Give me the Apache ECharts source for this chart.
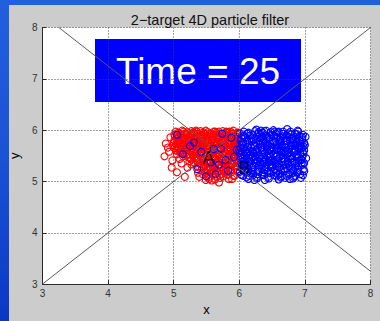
<!DOCTYPE html>
<html>
<head>
<meta charset="utf-8">
<script src="https://cdn.jsdelivr.net/npm/echarts@6/dist/echarts.min.js"></script>
<style>
  html, body { margin: 0; padding: 0; }
  body {
    width: 380px; height: 321px; overflow: hidden; position: relative;
    background: linear-gradient(180deg, #2160dc 0%, #1a52d4 50%, #0a38c4 100%);
  }
  #panel { position: absolute; left: 9px; top: 5px; width: 371px; height: 316px; background: #cccccc; }
  #chart { position: absolute; left: 0; top: 0; width: 380px; height: 321px; }
</style>
</head>
<body>
<div id="panel"></div>
<div id="chart"></div>
<script>
// Axis ranges and ticks
const xTicks = [3, 4, 5, 6, 7, 8];
const yTicks = [3, 4, 5, 6, 7, 8];

// Target trajectories (straight crossing paths)
const pathA = [[3.25, 8], [8, 3.25]];
const pathB = [[3, 3], [8, 8]];

// Particle cloud of target A
const particlesA = [
  [5.12,5.87],[5.47,5.93],[5.81,5.62],[5.33,5.71],[5.95,5.88],[5.64,5.45],[5.21,5.96],[5.76,5.79],[5.02,5.68],[5.58,5.84],
  [5.39,5.52],[5.88,5.33],[5.17,5.74],[5.69,5.97],[5.44,5.66],[5.91,5.57],[5.27,5.89],[5.73,5.28],[5.06,5.92],[5.52,5.77],
  [5.85,5.71],[5.31,5.94],[5.62,5.63],[5.14,5.55],[5.97,5.41],[5.49,5.86],[5.79,5.92],[5.23,5.81],[5.67,5.19],[5.41,5.98],
  [5.93,5.66],[5.08,5.79],[5.55,5.39],[5.36,5.83],[5.83,5.49],[5.19,5.64],[5.71,5.88],[5.46,5.27],[5.99,5.95],[5.29,5.58],
  [5.61,5.91],[5.04,5.84],[5.77,5.36],[5.37,5.69],[5.89,5.82],[5.15,5.97],[5.53,5.58],[5.25,5.46],[5.82,5.96],[5.66,5.74],
  [5.43,5.91],[5.96,5.23],[5.11,5.62],[5.74,5.55],[5.34,5.99],[5.59,5.31],[5.86,5.86],[5.22,5.72],[5.48,5.79],[5.01,5.91],
  [5.68,5.83],[5.92,5.74],[5.38,5.43],[5.13,5.81],[5.63,5.97],[5.80,5.19],[5.45,5.62],[5.26,5.91],[5.94,5.52],[5.57,5.69],
  [5.09,5.73],[5.72,5.63],[5.32,5.87],[5.87,5.61],[5.18,5.94],[5.51,5.22],[5.78,5.84],[5.42,5.78],[5.98,5.79],[5.24,5.53],
  [5.65,5.55],[5.03,5.97],[5.56,5.94],[5.84,5.41],[5.35,5.76],[5.70,5.12],[5.16,5.86],[5.90,5.93],[5.50,5.48],[5.28,5.65],
  [5.75,5.98],[5.40,5.34],[5.07,5.66],[5.60,5.81],[5.97,5.68],[5.20,5.79],[5.54,5.05],[5.81,5.89],[5.30,5.96],[5.67,5.67],
  [5.44,5.14],[5.62,5.26],[5.87,5.18],[5.71,5.07],[5.36,5.29],[5.93,5.11],[5.52,5.35],[5.79,5.24],[5.58,5.02],[5.66,5.38],
  [5.48,5.19],[5.84,5.31],[5.39,5.09],[5.95,5.27],[5.61,5.16],[5.74,5.42],[5.31,5.37],[5.89,5.05],[5.55,5.28],[5.69,4.98],
  [5.46,5.41],[5.82,5.13],[5.99,5.36],[5.64,5.21],[5.37,5.17],[5.77,5.33],[5.51,5.11],[5.92,5.45],[5.43,5.25],[5.73,5.15],
  [5.27,5.33],[5.59,5.44],[5.86,5.26],[5.34,5.45],[5.97,5.19],[5.68,5.31],[5.49,5.03],[5.80,5.39],[5.56,5.18],[5.41,5.36],
  [5.12,5.35],[5.05,5.18],[5.21,5.27],[4.98,5.41],[5.17,5.09],[5.09,5.44],[5.24,5.39],
  [5.14,5.49],[5.33,5.58],[5.57,5.51],[5.76,5.47],[5.91,5.64],[5.05,5.53],[5.42,5.55],[5.63,5.59],[5.85,5.54],[5.25,5.61],
  [5.47,5.44],[5.70,5.52],[5.96,5.58],[5.19,5.57],[5.38,5.64],[5.60,5.66],[5.83,5.67],[5.10,5.59],[5.29,5.51],[5.53,5.63],
  [5.78,5.58],[5.94,5.47],[5.45,5.71],[5.66,5.49],[5.22,5.47],[5.88,5.50],[5.35,5.62],[5.72,5.72],[5.03,5.62],[5.50,5.57],
  [5.06,5.85],[5.19,5.91],[5.32,5.78],[5.45,5.96],[5.58,5.88],[5.71,5.93],[5.84,5.77],[5.97,5.91],[5.13,5.99],[5.26,5.84],
  [5.39,5.90],[5.52,5.82],[5.65,5.95],[5.78,5.87],[5.91,5.99],[5.00,5.76],[5.23,5.76],[5.36,5.93],[5.49,5.99],[5.62,5.76],
  [5.75,5.91],[5.88,5.96],[5.10,5.93],[5.30,5.82],[5.55,5.90],[5.80,5.97],[5.95,5.83],[5.17,5.80],[5.42,5.85],[5.68,5.90],
  [5.28,5.72],[5.51,5.69],[5.74,5.69],[5.93,5.80],[5.11,5.69],[5.40,5.73],[5.63,5.72],[5.86,5.66],[5.20,5.67],[5.57,5.75],
  [5.35,5.41],[5.61,5.36],[5.82,5.45],[5.47,5.30],[5.70,5.27],[5.90,5.34],[5.53,5.13],[5.76,5.21],[5.65,5.09],[5.84,5.05],
  [5.99,5.55],[5.96,5.72],[5.98,5.87],[5.01,5.80],[5.07,5.95],[4.99,5.70],[5.04,5.60],[5.15,5.64],[5.27,5.98],[5.44,5.80],
  [5.08,5.88],[5.21,5.83],[5.27,5.93],[5.41,5.86],[5.46,5.90],[5.61,5.97],[5.67,5.86],[5.80,5.95],[5.87,5.90],[5.97,5.95],
  [5.04,5.72],[5.12,5.77],[5.25,5.86],[5.32,5.90],[5.44,5.76],[5.54,5.87],[5.61,5.83],[5.74,5.78],[5.82,5.83],[5.94,5.88],
  [5.07,5.64],[5.17,5.71],[5.24,5.78],[5.38,5.72],[5.45,5.68],[5.58,5.80],[5.64,5.70],[5.77,5.66],[5.84,5.74],[5.97,5.77],
  [5.10,5.56],[5.18,5.60],[5.30,5.69],[5.37,5.60],[5.50,5.64],[5.57,5.58],[5.70,5.60],[5.78,5.71],[5.91,5.68],[5.98,5.63],
  [5.32,5.48],[5.40,5.52],[5.52,5.42],[5.60,5.47],[5.72,5.44],[5.80,5.53],[5.92,5.40],[5.46,5.37],[5.64,5.33],[5.86,5.36],
  [5.39,5.27],[5.47,5.33],[5.59,5.21],[5.67,5.19],[5.79,5.29],[5.87,5.22],[5.97,5.30],[5.53,5.08],[5.63,5.04],[5.76,5.10],
  [5.12,5.91],[5.35,5.97],[5.57,5.92],[5.79,5.81],[5.23,5.66],[5.47,5.73],[5.71,5.75],[5.94,5.69],[5.02,5.88],[5.44,5.69],
  [5.15,5.82],[5.29,5.75],[5.52,5.96],[5.66,5.91],[5.85,5.97],[5.93,5.58],[5.60,5.55],[5.74,5.37],[5.83,5.15],[5.56,5.25],
  [5.42,5.45],[5.68,5.53],[5.89,5.46],[5.35,5.54],[5.20,5.52],[5.01,5.65],[5.06,5.77],[5.27,5.43],[5.50,5.17],[5.91,5.11],
  [4.88,5.74],[4.93,5.58],[4.86,5.49],[4.95,5.86],[4.91,5.66],[4.97,5.27],
  [6.22,5.73],[6.48,5.48],[6.71,5.80],[6.35,5.66],[6.58,5.31],[6.12,5.55]
];

// Particle cloud of target B
const particlesB = [
  [5.05,5.91],[5.14,5.53],[5.31,5.76],[5.61,5.63],[5.74,5.93],[5.72,5.64],[5.57,5.37],[5.69,5.33],[5.79,5.42],[5.36,5.24],
  [5.49,5.10],[5.64,5.14],[5.88,5.85],[5.42,5.58],[5.92,5.48],[5.25,5.69],[5.83,5.21],[5.96,5.62],
  [6.08,5.41],[6.53,5.12],[6.87,5.77],[6.29,5.23],[6.71,5.58],[6.14,5.95],[6.95,5.36],[6.42,5.69],[6.63,5.08],[6.21,5.82],
  [6.78,5.44],[6.35,5.57],[6.97,5.91],[6.49,5.31],[6.03,5.13],[6.66,5.88],[6.24,5.49],[6.82,5.21],[6.57,5.72],[6.11,5.63],
  [6.90,5.66],[6.38,5.98],[6.74,5.34],[6.19,5.27],[6.61,5.46],[6.45,5.85],[6.93,5.14],[6.32,5.38],[6.85,5.93],[6.06,5.76],
  [6.55,5.55],[6.27,5.06],[6.79,5.68],[6.16,5.51],[6.68,5.25],[6.41,5.43],[6.99,5.61],[6.23,5.70],[6.60,5.97],[6.36,5.18],
  [6.88,5.48],[6.12,5.33],[6.51,5.64],[6.75,5.87],[6.04,5.58],[6.44,5.09],[6.92,5.79],[6.30,5.87],[6.65,5.39],[6.18,5.16],
  [6.83,5.56],[6.40,5.76],[6.58,5.29],[6.09,5.86],[6.72,5.11],[6.26,5.62],[6.96,5.47],[6.48,5.96],[6.15,5.44],[6.62,5.81],
  [6.34,5.26],[6.80,5.37],[6.07,5.21],[6.54,5.42],[6.89,5.99],[6.22,5.55],[6.70,5.72],[6.43,5.19],[6.01,5.94],[6.59,5.65],
  [6.31,5.80],[6.86,5.30],[6.13,5.68],[6.77,5.05],[6.46,5.53],[6.94,5.70],[6.25,5.35],[6.67,5.93],[6.37,5.47],[6.05,5.32],
  [6.56,5.85],[6.81,5.16],[6.20,5.91],[6.64,5.60],[6.98,5.24],[6.33,5.66],[6.73,5.51],[6.10,5.54],[6.50,5.27],[6.87,5.83],
  [6.28,5.14],[6.63,5.78],[6.17,5.39],[6.84,5.64],[6.39,5.90],[6.02,5.47],[6.57,5.10],[6.91,5.41],[6.47,5.74],[6.24,5.98],
  [6.76,5.29],[6.11,5.08],[6.69,5.84],[6.35,5.32],[6.93,5.55],[6.52,5.20],[6.06,5.65],[6.79,5.92],[6.42,5.61],[6.19,5.78],
  [6.61,5.35],[6.96,5.82],[6.30,5.45],[6.71,5.66],[6.14,5.24],[6.53,5.89],[6.88,5.18],[6.45,5.37],[6.03,5.84],[6.66,5.52],
  [6.23,5.42],[6.82,5.75],[6.38,5.12],[6.58,5.96],[6.09,5.30],[6.74,5.45],[6.32,5.73],[6.97,5.33],[6.49,5.58],[6.16,5.89],
  [6.85,5.26],[6.27,5.59],[6.62,5.15],[6.43,5.82],[6.99,5.75],[6.13,5.57],[6.68,5.43],[6.36,5.95],[6.80,5.62],[6.05,5.40],
  [6.55,5.34],[6.92,5.89],[6.20,5.19],[6.60,5.70],[6.40,5.28],[6.78,5.97],[6.10,5.73],[6.47,5.16],[6.89,5.52],[6.26,5.83],
  [6.70,5.07],[6.34,5.61],[6.95,5.65],[6.15,5.11],[6.57,5.48],[6.81,5.85],[6.44,5.46],[6.01,5.56],[6.64,5.23],[6.29,5.93],
  [6.75,5.55],[6.18,5.66],[6.51,5.79],[6.90,5.23],[6.37,5.38],[6.07,5.97],[6.65,5.69],[6.22,5.28],[6.86,5.71],[6.48,5.40],
  [6.12,5.80],[6.59,5.13],[6.94,5.43],[6.31,5.51],[6.77,5.80],[6.41,5.99],[6.04,5.25],[6.67,5.32],[6.25,5.75],[6.84,5.38],
  [6.50,5.67],[6.16,5.59],[6.72,5.90],[6.38,5.22],[6.98,5.53],[6.08,5.50],[6.56,5.93],[6.28,5.40],[6.83,5.09],[6.46,5.63],
  [6.21,5.12],[6.63,5.86],[6.33,5.84],[6.91,5.68],[6.11,5.45],[6.54,5.24],[6.76,5.63],[6.02,5.79],[6.43,5.50],[6.69,5.20],
  [6.00,5.61],[6.03,5.35],[6.01,5.19],[6.06,5.88],[6.04,5.71],[7.02,5.45],[7.00,5.71],[6.99,5.36],[6.97,5.12],[7.01,5.87],
  [6.14,5.05],[6.39,5.03],[6.60,5.04],[6.82,5.06],[6.26,6.01],[6.52,6.00],[6.73,6.02],[6.90,5.97],
  [6.07,5.89],[6.18,5.84],[6.29,5.96],[6.37,5.82],[6.49,5.91],[6.58,5.86],[6.67,5.97],[6.79,5.83],[6.88,5.92],[6.96,5.86],
  [6.04,5.74],[6.15,5.79],[6.23,5.67],[6.36,5.76],[6.44,5.71],[6.55,5.77],[6.64,5.66],[6.73,5.79],[6.84,5.69],[6.93,5.74],
  [6.09,5.60],[6.17,5.52],[6.28,5.64],[6.39,5.55],[6.47,5.61],[6.56,5.51],[6.68,5.59],[6.77,5.49],[6.86,5.60],[6.97,5.57],
  [6.05,5.46],[6.14,5.38],[6.25,5.44],[6.33,5.35],[6.46,5.41],[6.54,5.37],[6.66,5.45],[6.74,5.39],[6.87,5.35],[6.95,5.42],
  [6.08,5.29],[6.20,5.22],[6.30,5.31],[6.41,5.24],[6.50,5.33],[6.61,5.27],[6.70,5.34],[6.80,5.25],[6.90,5.31],[6.99,5.20],
  [6.06,5.11],[6.16,5.16],[6.27,5.09],[6.35,5.13],[6.45,5.06],[6.56,5.17],[6.65,5.10],[6.76,5.14],[6.85,5.11],[6.94,5.07],
  [6.12,5.93],[6.33,5.99],[6.54,5.97],[6.75,5.94],[6.21,5.58],[6.43,5.66],[6.62,5.72],[6.81,5.46],[6.02,5.66],[6.39,5.41],
  [6.26,5.51],[6.48,5.28],[6.69,5.55],[6.91,5.63],[6.13,5.20],[6.59,5.43],[6.78,5.71],[6.34,5.87],[6.52,5.52],[6.72,5.26],
  [6.10,5.37],[6.30,5.19],[6.63,5.62],[6.83,5.81],[6.98,5.68],[6.19,5.47],[6.42,5.89],[6.57,5.63],[6.89,5.46],[6.23,5.03]
];

// Target labels
const targetNames = ['A', 'B'];
const targetPositions = [[5.53, 5.46], [6.08, 5.27]];

const chartTitle = '2\u2212target 4D particle filter';
const timeText = 'Time = 25';

const chart = echarts.init(document.getElementById('chart'), null, { renderer: 'svg' });

const axisCommon = {
  type: 'value',
  min: 3, max: 8, interval: 1,
  axisLine: { show: true, onZero: false, lineStyle: { color: '#2a2a2a', width: 1 } },
  axisTick: { show: true, inside: true, length: 4, lineStyle: { color: '#2a2a2a' } },
  splitLine: { show: true, showMinLine: true, showMaxLine: true, lineStyle: { color: '#444444', type: [1, 2], width: 1 } },
  axisLabel: { color: '#333333', fontSize: 10, fontFamily: 'Liberation Sans, Arial, sans-serif' },
  nameTextStyle: { color: '#000000', fontSize: 13, fontFamily: 'Liberation Sans, Arial, sans-serif' },
  nameLocation: 'middle'
};

const particleStyle = (c) => ({
  type: 'scatter',
  symbol: 'circle',
  symbolSize: 7,
  itemStyle: { color: 'rgba(0,0,0,0)', borderColor: c, borderWidth: 1.1, opacity: 1 },
  silent: true
});

chart.setOption({
  animation: false,
  title: {
    text: chartTitle,
    left: 205, top: 7, textAlign: 'center',
    textStyle: { color: '#111111', fontSize: 14.5, fontWeight: 'normal', fontFamily: 'Liberation Sans, Arial, sans-serif' }
  },
  grid: {
    left: 41.5, top: 27.5, width: 329, height: 258.5,
    show: true, backgroundColor: '#ffffff', borderWidth: 0
  },
  xAxis: Object.assign({}, axisCommon, {
    name: 'x', nameGap: 16,
    axisLabel: Object.assign({}, axisCommon.axisLabel, { margin: 4, customValues: xTicks })
  }),
  yAxis: Object.assign({}, axisCommon, {
    name: 'y', nameGap: 19, nameRotate: 90,
    axisLabel: Object.assign({}, axisCommon.axisLabel, { margin: 5, customValues: yTicks })
  }),
  series: [
    { type: 'line', data: pathA, symbol: 'none', lineStyle: { color: '#5a5a5a', width: 1 }, silent: true },
    { type: 'line', data: pathB, symbol: 'none', lineStyle: { color: '#5a5a5a', width: 1 }, silent: true },
    Object.assign(particleStyle('#ff0000'), { data: particlesA }),
    Object.assign(particleStyle('#0000ff'), { data: particlesB }),
    {
      type: 'scatter',
      symbolSize: 1,
      itemStyle: { color: 'rgba(0,0,0,0)' },
      silent: true,
      data: targetNames.map((n, i) => ({ name: n, value: targetPositions[i] })),
      label: {
        show: true, position: 'inside', formatter: '{b}',
        color: '#000000', fontSize: 18, fontFamily: 'Liberation Sans, Arial, sans-serif'
      }
    }
  ],
  graphic: [
    {
      type: 'group', left: 95, top: 39,
      children: [
        { type: 'rect', shape: { x: 0, y: 0, width: 206, height: 63 }, style: { fill: '#0000ff' } },
        {
          type: 'text', x: 103, y: 32,
          style: {
            text: timeText, fill: '#ffffff', fontSize: 37,
            fontFamily: 'Liberation Sans, Arial, sans-serif',
            align: 'center', verticalAlign: 'middle'
          }
        }
      ]
    }
  ]
});
</script>
</body>
</html>
